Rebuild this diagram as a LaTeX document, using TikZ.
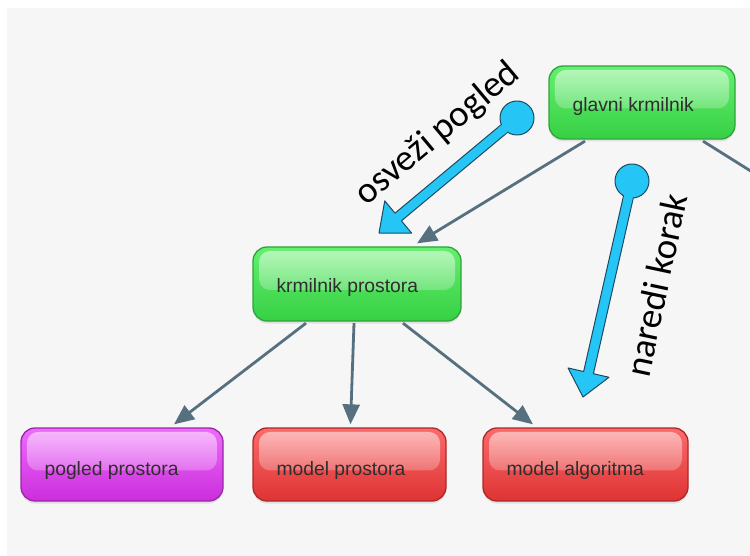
\documentclass[tikz,border=0pt]{standalone}
\usepackage{fontspec}
\newfontfamily\boxfont{Liberation Sans}
\newfontfamily\notefont{Carlito}
\usetikzlibrary{arrows.meta,calc,shadows,fadings}

\definecolor{paper}{HTML}{F6F6F6}
\definecolor{linkgray}{HTML}{56707F}
\definecolor{labelink}{HTML}{2E2E2E}
\definecolor{greentop}{HTML}{66EF70}
\definecolor{greenbot}{HTML}{36D044}
\definecolor{greenrim}{HTML}{2FA43A}
\definecolor{magtop}{HTML}{EE6BFC}
\definecolor{magbot}{HTML}{CB2EDC}
\definecolor{magrim}{HTML}{9A27A8}
\definecolor{redtop}{HTML}{FC6B6B}
\definecolor{redbot}{HTML}{DE3333}
\definecolor{redrim}{HTML}{AD2828}
\definecolor{pointerblue}{HTML}{25C6F6}
\definecolor{pointerrim}{HTML}{1D4A62}

\begin{document}
\begin{tikzpicture}[x=1pt,y=-1pt,
  card/.style={rounded corners=14pt, line width=1.3pt, inner sep=0pt,
    drop shadow={shadow xshift=0pt, shadow yshift=-2.5pt, opacity=.18},
    path picture={
      \fill[white, fill opacity=.55, path fading=south, rounded corners=11pt]
        ([xshift=6pt,yshift=-4pt]path picture bounding box.north west)
        rectangle ([xshift=-6pt,yshift=-6pt]path picture bounding box.east);
    }},
  greencard/.style={card, draw=greenrim, top color=greentop, bottom color=greenbot},
  magcard/.style={card, draw=magrim, top color=magtop, bottom color=magbot},
  redcard/.style={card, draw=redrim, top color=redtop, bottom color=redbot},
  cardtext/.style={anchor=base west, inner sep=0pt, text=labelink,
    font=\boxfont\fontsize{19.3}{21}\selectfont},
  link/.style={draw=linkgray, line width=2.8pt,
    -{Triangle[length=20pt,width=17pt]}},
  pointer/.style={fill=pointerblue, draw=pointerrim, line width=1pt, line join=round},
  note/.style={inner sep=0pt, text=black, font=\notefont\fontsize{37}{42}\selectfont}
]
\useasboundingbox (0,0) rectangle (750,556);
\clip (0,0) rectangle (750,556);

% textured paper sheet with a thin white margin
\fill[white] (0,0) rectangle (750,556);
\fill[paper] (7,8) rectangle (750,556);

% boxes
\node[greencard, minimum width=186pt, minimum height=73pt] (g)  at (642,102.5) {};
\node[greencard, minimum width=208pt, minimum height=74pt] (kp) at (357,284)   {};
\node[magcard,   minimum width=202pt, minimum height=73pt] (pp) at (122,464.5) {};
\node[redcard,   minimum width=193pt, minimum height=73pt] (mp) at (349.5,464.5) {};
\node[redcard,   minimum width=205pt, minimum height=73pt] (ma) at (585.5,464.5) {};

\node[cardtext] (gt)  at ($(g.west)+(24,9.5)$)  {glavni krmilnik};
\node[cardtext] (kpt) at ($(kp.west)+(24,9)$)   {krmilnik prostora};
\node[cardtext] (ppt) at ($(pp.west)+(24,10.5)$) {pogled prostora};
\node[cardtext] (mpt) at ($(mp.west)+(24,10.5)$) {model prostora};
\node[cardtext] (mat) at ($(ma.west)+(24,10.5)$) {model algoritma};

% connectors
\coordinate (offright) at (797,200);
\draw[link] ($(g.south)+(-57,1.5)$) -- ($(kp.north)+(60,-3)$);
\draw[draw=linkgray, line width=2.8pt] ($(g.south)+(61,1.5)$) -- (offright);
\draw[link] ($(kp.south)+(-51,1.5)$) -- ($(pp.north)+(52,-3)$);
\draw[link] ($(kp.south)+(-3,1.5)$)  -- ($(mp.north)+(1,-3)$);
\draw[link] ($(kp.south)+(46,1.5)$)  -- ($(ma.north)+(-52.5,-3)$);

% "osvezi pogled" pointer
\coordinate (a1) at (517,118);
\coordinate (t1) at (379,233);
\coordinate (h1) at ($(t1)!25pt!(a1)$);
\filldraw[pointer] ($(a1)!5pt!90:(t1)$) -- ($(h1)!5pt!-90:(a1)$)
  -- ($(h1)!21pt!-90:(a1)$) -- (t1) -- ($(h1)!21pt!90:(a1)$)
  -- ($(h1)!5pt!90:(a1)$) -- ($(a1)!5pt!-90:(t1)$) -- cycle;
\filldraw[pointer] (a1) circle[radius=17pt];
\coordinate (s1a) at ($(a1)!12pt!(t1)$);
\coordinate (s1b) at ($(a1)!21pt!(t1)$);
\fill[pointerblue] ($(s1a)!4.4pt!90:(t1)$) -- ($(s1b)!4.4pt!90:(t1)$)
  -- ($(s1b)!4.4pt!-90:(t1)$) -- ($(s1a)!4.4pt!-90:(t1)$) -- cycle;
\node[note, rotate=40] (n1) at (438,134) {osveži pogled};

% "naredi korak" pointer
\coordinate (a2) at (632,181);
\coordinate (t2) at (583,397);
\coordinate (h2) at ($(t2)!25pt!(a2)$);
\filldraw[pointer] ($(a2)!5pt!90:(t2)$) -- ($(h2)!5pt!-90:(a2)$)
  -- ($(h2)!21pt!-90:(a2)$) -- (t2) -- ($(h2)!21pt!90:(a2)$)
  -- ($(h2)!5pt!90:(a2)$) -- ($(a2)!5pt!-90:(t2)$) -- cycle;
\filldraw[pointer] (a2) circle[radius=17pt];
\coordinate (s2a) at ($(a2)!12pt!(t2)$);
\coordinate (s2b) at ($(a2)!21pt!(t2)$);
\fill[pointerblue] ($(s2a)!4.4pt!90:(t2)$) -- ($(s2b)!4.4pt!90:(t2)$)
  -- ($(s2b)!4.4pt!-90:(t2)$) -- ($(s2a)!4.4pt!-90:(t2)$) -- cycle;
\node[note, rotate=78] (n2) at (656,285) {naredi korak};
\end{tikzpicture}
\end{document}
